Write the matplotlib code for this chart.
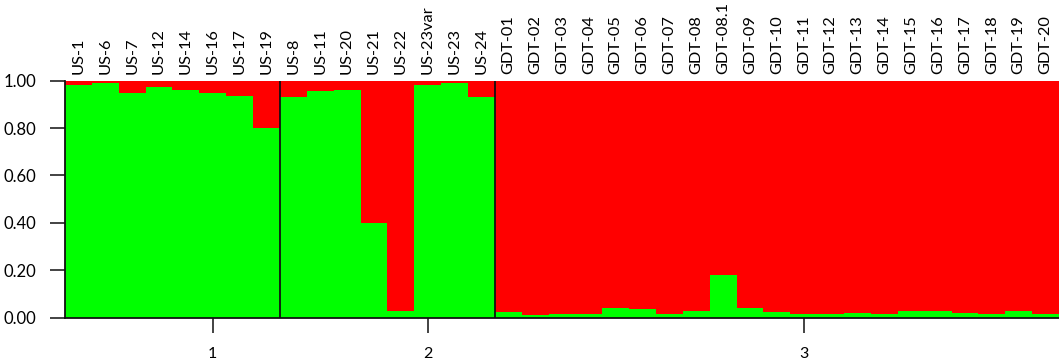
import numpy as np
import matplotlib
matplotlib.use("Agg")
import matplotlib.pyplot as plt

plt.rcParams['font.family'] = ['Lato', 'DejaVu Sans']

# sample names per group
group1 = ["US-1", "US-6", "US-7", "US-12", "US-14", "US-16", "US-17", "US-19"]
group2 = ["US-8", "US-11", "US-20", "US-21", "US-22", "US-23var", "US-23", "US-24"]
group3 = ["GDT-01", "GDT-02", "GDT-03", "GDT-04", "GDT-05", "GDT-06", "GDT-07",
          "GDT-08", "GDT-08.1", "GDT-09", "GDT-10", "GDT-11", "GDT-12", "GDT-13",
          "GDT-14", "GDT-15", "GDT-16", "GDT-17", "GDT-18", "GDT-19", "GDT-20"]
group_labels = ["1", "2", "3"]

# membership in cluster 1 (green); the rest is cluster 2 (red)
green1 = [0.98, 0.99, 0.95, 0.975, 0.96, 0.95, 0.935, 0.80]
green2 = [0.93, 0.955, 0.96, 0.40, 0.03, 0.98, 0.99, 0.93]
green3 = [0.023, 0.011, 0.016, 0.016, 0.042, 0.035, 0.016, 0.028, 0.18, 0.042,
          0.025, 0.016, 0.016, 0.02, 0.016, 0.028, 0.028, 0.02, 0.016, 0.028, 0.016]

groups = [group1, group2, group3]
names = group1 + group2 + group3
green = np.array(green1 + green2 + green3)
red = 1 - green
x = np.arange(len(names))

fig = plt.figure(figsize=(10.59, 3.62), dpi=100)
ax = fig.add_axes([0.0614, 0.1224, 0.9386, 0.6547])

ax.bar(x, green, width=1.0, color="#00ff00", linewidth=0)
ax.bar(x, red, width=1.0, bottom=green, color="#ff0000", linewidth=0)

# group separators and group ticks
starts = np.cumsum([0] + [len(g) for g in groups])
for s in starts[1:-1]:
    ax.axvline(s - 0.5, color="#111111", lw=1.3)
ax.set_xticks([s + len(g) // 2 + 1 for s, g in zip(starts[:-1], groups)])
ax.set_xticklabels(group_labels, fontsize=11.5)
ax.tick_params(axis="x", length=11, width=1.2, pad=10, color="#222222")

ax.set_xlim(-0.5, len(names) - 0.5)
ax.set_ylim(0, 1)
ax.set_yticks(np.arange(0, 1.01, 0.2))
ax.set_yticklabels(["%.2f" % v for v in np.arange(0, 1.01, 0.2)], fontsize=12)
ax.tick_params(axis="y", length=11, width=1.2, pad=10, color="#222222")

for sp in ["top", "right"]:
    ax.spines[sp].set_visible(False)
for sp in ["left", "bottom"]:
    ax.spines[sp].set_linewidth(1.3)
    ax.spines[sp].set_color("#111111")

top = ax.secondary_xaxis("top")
top.set_xticks(x)
top.set_xticklabels(names, rotation=90, fontsize=11.8)
top.tick_params(length=0, pad=5)
top.spines["top"].set_visible(False)

fig.savefig("out.png", dpi=100)
